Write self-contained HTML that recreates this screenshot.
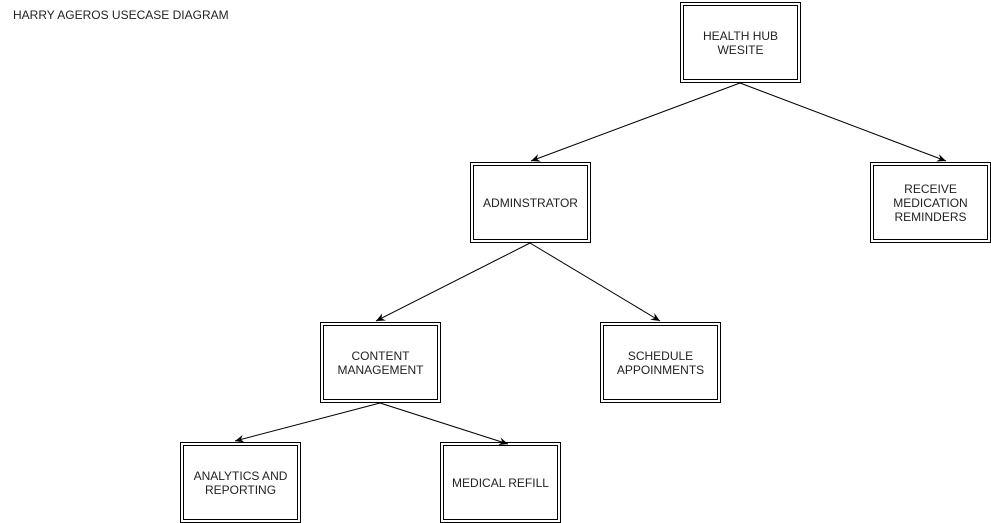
<!DOCTYPE html>
<html><head><style>
body{margin:0;width:991px;height:523px;background:#fff;position:relative;overflow:hidden;font-family:"Liberation Sans",Arial,sans-serif;}
.b{position:absolute;width:119px;height:79px;border:1px solid #000;box-sizing:content-box;}
.b::after{content:"";position:absolute;left:2px;top:2px;right:2px;bottom:2px;border:1px solid #000;}
.b span{position:absolute;left:0;right:0;top:50%;transform:translateY(-50%);text-align:center;font-size:12px;line-height:14px;color:#222;padding:0 8px;}
.t{position:absolute;left:13px;top:8px;font-size:12px;color:#222;}
svg{position:absolute;left:0;top:0}
</style></head><body>
<div class="t">HARRY AGEROS USECASE DIAGRAM</div>
<svg width="991" height="523">
<defs><marker id="a" markerWidth="10" markerHeight="10" refX="9" refY="5" orient="auto" markerUnits="userSpaceOnUse"><path d="M0,1 L9,5 L0,9 L3,5 z" fill="#000"/></marker></defs>
<g stroke="#000" stroke-width="1" fill="none" marker-end="url(#a)">
<line x1="740" y1="83" x2="531" y2="161"/>
<line x1="740" y1="83" x2="946" y2="161"/>
<line x1="530" y1="243" x2="376" y2="321"/>
<line x1="530" y1="243" x2="660" y2="321"/>
<line x1="380" y1="403" x2="235" y2="441"/>
<line x1="380" y1="403" x2="508" y2="444"/>
</g></svg>
<div class="b" style="left:680px;top:2px"><span>HEALTH HUB WESITE</span></div>
<div class="b" style="left:470px;top:162px"><span>ADMINSTRATOR</span></div>
<div class="b" style="left:870px;top:162px"><span>RECEIVE MEDICATION REMINDERS</span></div>
<div class="b" style="left:320px;top:322px"><span>CONTENT MANAGEMENT</span></div>
<div class="b" style="left:600px;top:322px"><span>SCHEDULE APPOINMENTS</span></div>
<div class="b" style="left:180px;top:442px"><span>ANALYTICS AND REPORTING</span></div>
<div class="b" style="left:440px;top:442px"><span>MEDICAL REFILL</span></div>
</body></html>
